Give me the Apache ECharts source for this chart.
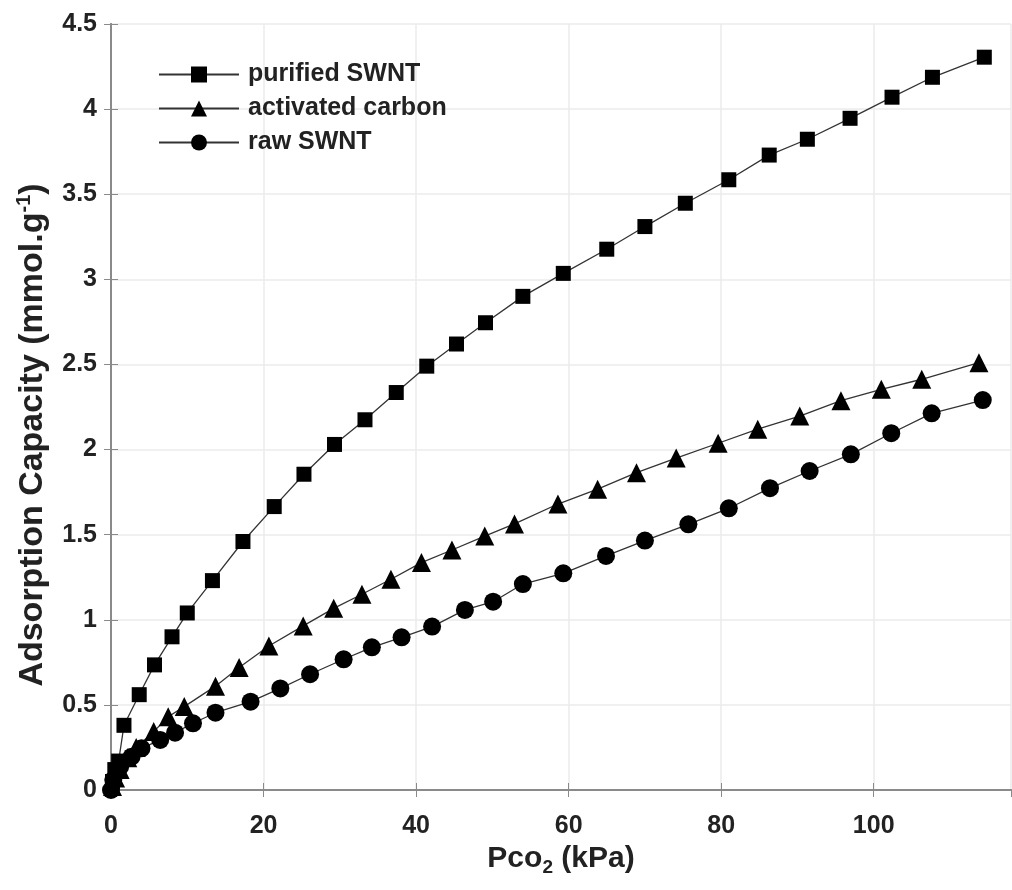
<!DOCTYPE html>
<html>
<head>
<meta charset="utf-8">
<script src="https://cdn.jsdelivr.net/npm/echarts@6/dist/echarts.min.js"></script>
<style>html,body{margin:0;padding:0;background:#fff;}#c{width:1012px;height:890px;}</style>
</head>
<body>
<div id="c"></div>
<script>
var seriesNames = ['purified SWNT', 'activated carbon', 'raw SWNT'];
var purifiedX = [0.2, 0.5, 1.0, 1.7, 3.7, 5.7, 8.0, 10.0, 13.3, 17.3, 21.4, 25.3, 29.3, 33.3, 37.4, 41.4, 45.3, 49.1, 54.0, 59.3, 65.0, 70.0, 75.3, 81.0, 86.3, 91.3, 96.9, 102.4, 107.7, 114.5];
var purifiedY = [0.05, 0.12, 0.17, 0.38, 0.56, 0.735, 0.90, 1.04, 1.23, 1.46, 1.665, 1.855, 2.03, 2.175, 2.335, 2.49, 2.62, 2.745, 2.90, 3.035, 3.177, 3.31, 3.447, 3.585, 3.73, 3.823, 3.946, 4.07, 4.187, 4.305];
var carbonX = [0.2, 0.6, 1.2, 2.2, 3.3, 5.6, 7.5, 9.6, 13.7, 16.8, 20.7, 25.2, 29.2, 32.9, 36.7, 40.7, 44.7, 49.0, 52.9, 58.6, 63.8, 68.9, 74.1, 79.6, 84.8, 90.3, 95.7, 101.0, 106.3, 113.8];
var carbonY = [0.02, 0.07, 0.12, 0.19, 0.25, 0.343, 0.43, 0.49, 0.61, 0.72, 0.846, 0.964, 1.067, 1.15, 1.238, 1.336, 1.41, 1.492, 1.563, 1.68, 1.767, 1.864, 1.95, 2.037, 2.12, 2.197, 2.287, 2.354, 2.413, 2.51];
var rawX = [0.0, 0.3, 1.2, 2.7, 4.0, 6.45, 8.4, 10.75, 13.7, 18.3, 22.2, 26.1, 30.5, 34.2, 38.1, 42.1, 46.4, 50.1, 54.0, 59.3, 64.9, 70.0, 75.7, 81.0, 86.4, 91.6, 97.0, 102.3, 107.6, 114.3];
var rawY = [0.0, 0.06, 0.137, 0.196, 0.245, 0.294, 0.337, 0.392, 0.454, 0.519, 0.597, 0.68, 0.768, 0.838, 0.897, 0.96, 1.058, 1.106, 1.21, 1.273, 1.375, 1.465, 1.561, 1.655, 1.773, 1.874, 1.972, 2.096, 2.213, 2.291];
var xTicks = [0, 20, 40, 60, 80, 100];
var yTicks = [0, 0.5, 1, 1.5, 2, 2.5, 3, 3.5, 4, 4.5];

function zip(xs, ys) { return xs.map(function (x, i) { return [x, ys[i]]; }); }

var font = 'Liberation Sans';
var tickLabel = { fontFamily: font, fontWeight: 'bold', fontSize: 25, color: '#222' };
var chart = echarts.init(document.getElementById('c'));

function mkSeries(name, data, symbol, size) {
  return {
    name: name, type: 'line', data: data, symbol: symbol, symbolSize: size,
    showAllSymbol: true, xAxisIndex: 0, yAxisIndex: 0,
    lineStyle: { color: '#333', width: 1.3 },
    itemStyle: { color: '#000', borderWidth: 0 },
    emphasis: { disabled: true }, animation: false
  };
}

chart.setOption({
  animation: false,
  backgroundColor: '#fff',
  grid: { left: 111, right: 1, top: 24, bottom: 100, containLabel: false },
  legend: {
    orient: 'vertical', left: 153, top: 57, itemGap: 9,
    itemWidth: 80, itemHeight: 20,
    textStyle: { fontFamily: font, fontWeight: 'bold', fontSize: 25, color: '#222', padding: [0, 0, 0, 4] },
    data: seriesNames.map(function (n) { return { name: n }; })
  },
  xAxis: [{
    type: 'value', min: 0, max: 118, interval: 20,
    name: '{a|Pco}{s|2}{a| (kPa)}', nameLocation: 'middle', nameGap: 50,
    nameTextStyle: { rich: {
      a: { fontFamily: font, fontWeight: 'bold', fontSize: 30, color: '#222' },
      s: { fontFamily: font, fontWeight: 'bold', fontSize: 19, color: '#222', padding: [18, 0, 0, 0] }
    } },
    axisLine: { show: true, lineStyle: { color: '#8a8a8a', width: 2 } },
    axisTick: { show: true, inside: true, length: 7, lineStyle: { color: '#8a8a8a' } },
    axisLabel: Object.assign({ margin: 24, showMaxLabel: false, formatter: function (v) { return xTicks.indexOf(v) >= 0 ? String(v) : ''; } }, tickLabel),
    splitLine: { show: true, lineStyle: { color: '#ebebeb', width: 1.5 } }
  }, {
    type: 'value', min: 0, max: 118, interval: 20, position: 'top',
    axisLine: { show: true, lineStyle: { color: '#8a8a8a', width: 2 } },
    axisTick: { show: true, inside: true, length: 7, lineStyle: { color: '#8a8a8a' } },
    axisLabel: { show: false }, splitLine: { show: false }
  }],
  yAxis: [{
    type: 'value', min: 0, max: 4.5, interval: 0.5,
    name: '{a|Adsorption Capacity (mmol.g}{s|-1}{a|)}', nameLocation: 'middle', nameGap: 60,
    nameTextStyle: { padding: [0, 56, 0, 0], rich: {
      a: { fontFamily: font, fontWeight: 'bold', fontSize: 34, color: '#222' },
      s: { fontFamily: font, fontWeight: 'bold', fontSize: 20, color: '#222', padding: [0, 0, 17, 0] }
    } },
    axisLine: { show: true, lineStyle: { color: '#8a8a8a', width: 2 } },
    axisTick: { show: true, inside: true, length: 7, lineStyle: { color: '#8a8a8a' } },
    axisLabel: Object.assign({ margin: 14, formatter: function (v) { return yTicks.indexOf(v) >= 0 ? String(v) : ''; } }, tickLabel),
    splitLine: { show: true, lineStyle: { color: '#ebebeb', width: 1.5 } }
  }, {
    type: 'value', min: 0, max: 4.5, interval: 0.5, position: 'right',
    axisLine: { show: true, lineStyle: { color: '#8a8a8a', width: 2 } },
    axisTick: { show: true, inside: true, length: 7, lineStyle: { color: '#8a8a8a' } },
    axisLabel: { show: false }, splitLine: { show: false }
  }],
  series: [
    mkSeries(seriesNames[0], zip(purifiedX, purifiedY), 'rect', 15),
    mkSeries(seriesNames[1], zip(carbonX, carbonY), 'triangle', 19),
    mkSeries(seriesNames[2], zip(rawX, rawY), 'circle', 18)
  ]
});
</script>
</body>
</html>
